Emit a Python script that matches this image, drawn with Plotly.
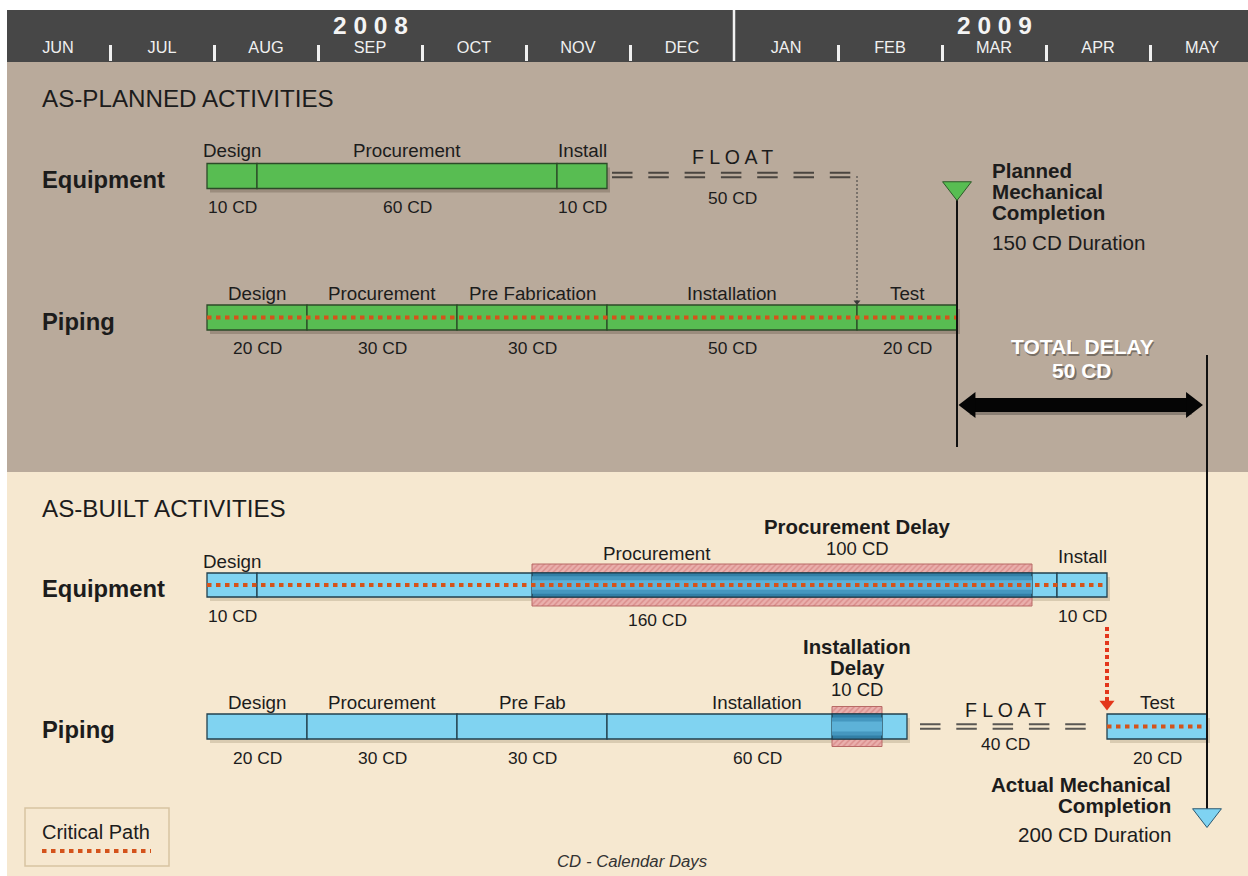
import numpy as np
import plotly.graph_objects as go

# ---------------- data ----------------
months = ["JUN", "JUL", "AUG", "SEP", "OCT", "NOV", "DEC", "JAN", "FEB", "MAR", "APR", "MAY"]
years = ["2 0 0 8", "2 0 0 9"]
year_label_month = [3, 9]          # year label sits over SEP / MAR
year_break_month = 6.5             # divider between DEC and JAN

planned_eq_tasks = ["Design", "Procurement", "Install"]
planned_eq_cd = [10, 60, 10]
planned_eq_float_cd = 50

planned_pp_tasks = ["Design", "Procurement", "Pre Fabrication", "Installation", "Test"]
planned_pp_cd = [20, 30, 30, 50, 20]
planned_completion_cd = 150

built_eq_tasks = ["Design", "Procurement", "Install"]
built_eq_cd = [10, 160, 10]
procurement_delay_start = 65
procurement_delay_cd = 100

built_pp_tasks = ["Design", "Procurement", "Pre Fab", "Installation"]
built_pp_cd = [20, 30, 30, 60]
built_pp_float_cd = 40
built_pp_test_cd = 20
installation_delay_start = 125
installation_delay_cd = 10
actual_completion_cd = 200
total_delay_cd = 50

# ---------------- layout constants ----------------
W, H, TOP = 1248, 876, 62
PX0, PPD = 207.0, 5.0            # pixel of day 0, pixels per day
MON0, MONW = 58.0, 104.0         # pixel of first month centre, month width


def day(px):
    return (px - PX0) / PPD


def py(p):
    return (H - p) / (H - TOP)


FONT = "Liberation Sans, Arial, sans-serif"
GREEN, GREEN_LN = "#58bd52", "#2c4a28"
BLUE, BLUE_LN = "#80d3f1", "#22404e"
CP = "#d4531b"
TXT = "#1c1c1c"
SHADOW = "rgba(50,35,20,0.22)"

Y_PEQ, Y_PPP, Y_BEQ, Y_BPP = 176, 317.5, 585, 726.5
BAR_H = 25
LBL, CDL = 18.8, 17.4            # task label / duration label font sizes

fig = go.Figure()


def bars(starts, durs, yc, h, color, line_color="rgba(0,0,0,0)", line_w=1.3, pattern=None):
    marker = dict(color=color, line=dict(color=line_color, width=line_w))
    if pattern:
        marker["pattern"] = pattern
    fig.add_trace(go.Bar(orientation="h", y=[yc] * len(durs), x=list(durs), base=list(starts),
                         width=[h] * len(durs), marker=marker, hoverinfo="skip", showlegend=False))


def line(xs, ys, color, width, dash="solid", xaxis="x"):
    fig.add_trace(go.Scatter(x=xs, y=ys, mode="lines", xaxis=xaxis,
                             line=dict(color=color, width=width, dash=dash),
                             hoverinfo="skip", showlegend=False))


def marker(x, y, symbol, size, color, lcolor, lw=1):
    fig.add_trace(go.Scatter(x=[x], y=[y], mode="markers",
                             marker=dict(symbol=symbol, size=size, color=color,
                                         line=dict(color=lcolor, width=lw)),
                             hoverinfo="skip", showlegend=False))


anns = []


def ann(text, x, y, size=LBL, bold=False, color=TXT, xanchor="center", xref="x", yref="y",
        xshift=0, yshift=0, italic=False):
    if bold:
        text = "<b>" + text + "</b>"
    if italic:
        text = "<i>" + text + "</i>"
    anns.append(dict(text=text, x=x, y=y, xref=xref, yref=yref, showarrow=False,
                     xanchor=xanchor, yanchor="middle", xshift=xshift, yshift=yshift,
                     font=dict(family=FONT, size=size, color=color)))


def starts_of(durs, offset=0):
    return list(offset + np.concatenate([[0], np.cumsum(durs)[:-1]]))


# ---- cumulative schedule ----
p_eq_s = starts_of(planned_eq_cd)
p_eq_end = sum(planned_eq_cd)
p_pp_s = starts_of(planned_pp_cd)
p_pp_end = sum(planned_pp_cd)

b_eq_s = starts_of(built_eq_cd)
b_eq_end = sum(built_eq_cd)
b_pp_s = starts_of(built_pp_cd)
b_pp_work_end = sum(built_pp_cd)
b_pp_test_start = b_pp_work_end + built_pp_float_cd
b_pp_end = b_pp_test_start + built_pp_test_cd

# ---- shadows ----
bars([0.6], [p_eq_end], Y_PEQ + 4, BAR_H, SHADOW)
bars([0.6], [p_pp_end], Y_PPP + 4, BAR_H, SHADOW)
bars([0.6], [b_eq_end], Y_BEQ + 4, 24, "rgba(90,70,40,0.18)")
bars([0.6], [b_pp_work_end], Y_BPP + 4, BAR_H, "rgba(90,70,40,0.18)")
bars([b_pp_test_start + 0.6], [built_pp_test_cd], Y_BPP + 4, BAR_H, "rgba(90,70,40,0.18)")

# ---- hatched delay boxes ----
hatch = dict(shape="/", fgcolor="#c86767", bgcolor="#eab0ad", size=4, solidity=0.35)
bars([procurement_delay_start], [procurement_delay_cd], Y_BEQ, 42, "#eab0ad", "#b86a66", 1, hatch)
bars([installation_delay_start], [installation_delay_cd], Y_BPP, 40, "#eab0ad", "#b86a66", 1, hatch)

# ---- planned bars ----
bars(p_eq_s, planned_eq_cd, Y_PEQ, BAR_H, GREEN, GREEN_LN)
bars(p_pp_s, planned_pp_cd, Y_PPP, BAR_H, GREEN, GREEN_LN)

# ---- as-built bars ----
bars(b_eq_s, built_eq_cd, Y_BEQ, 24, BLUE, BLUE_LN)
bars(b_pp_s, built_pp_cd, Y_BPP, BAR_H, BLUE, BLUE_LN)
bars([b_pp_test_start], [built_pp_test_cd], Y_BPP, BAR_H, BLUE, BLUE_LN)

# darker (delayed) portions, faux gradient
for (s, d, yc, h) in [(procurement_delay_start, procurement_delay_cd, Y_BEQ, 24),
                      (installation_delay_start, installation_delay_cd, Y_BPP, BAR_H)]:
    bars([s], [d], yc, h, "#327fa6", "#1d3a48", 1.2)
    bars([s], [d], yc, h * 0.72, "#4597bf")
    bars([s], [d], yc, h * 0.4, "#5db2d8")

# ---- critical path dotted lines ----
CPDASH = "4.5px,4.5px"
line([0, p_pp_end], [Y_PPP, Y_PPP], CP, 4, CPDASH)
line([0, b_eq_end], [Y_BEQ, Y_BEQ], CP, 4, CPDASH)
line([b_pp_test_start, b_pp_end], [Y_BPP, Y_BPP], CP, 4, CPDASH)

# red link from equipment install to piping test
line([b_eq_end, b_eq_end], [627, 701], "#e3361b", 4, "4px,3px")
marker(b_eq_end, 704, "triangle-down", 13, "#e3361b", "#e3361b", 0)

# ---- float double-dash lines ----
FDASH = "20.5px,15.8px"
pf0, pf1 = p_eq_end + 1, p_eq_end + planned_eq_float_cd - 1
for off in (-2.2, 2.2):
    line([pf0, pf1], [Y_PEQ - 1 + off, Y_PEQ - 1 + off], "#4a4540", 2, FDASH)
bf0, bf1 = b_pp_work_end + 2.6, b_pp_test_start - 3.6
for off in (-2.2, 2.2):
    line([bf0, bf1], [Y_BPP + off, Y_BPP + off], "#5a5753", 2, FDASH)

# thin dotted drop from end of float to piping
fx = p_eq_end + planned_eq_float_cd
line([fx, fx], [Y_PEQ, Y_PPP - 16], "#3a3a3a", 1, "2px,2px")
marker(fx, Y_PPP - 15.5, "triangle-down", 6, "#3a3a3a", "#3a3a3a", 0)

# ---- milestones ----
line([planned_completion_cd, planned_completion_cd], [190, 447], "#111", 2)
marker(planned_completion_cd, 188, "triangle-down", 25, GREEN, "#2c5a28", 1)
line([actual_completion_cd, actual_completion_cd], [355, 809], "#111", 2)
marker(actual_completion_cd, 815, "triangle-down", 25, "#7fd3f2", "#2b5870", 1)

# ---- total delay double arrow ----
r_days = 11.3 / PPD
ya = 405
line([planned_completion_cd + 0.3 + r_days, actual_completion_cd - 0.8 - r_days], [ya + 3, ya + 3],
     "rgba(0,0,0,0.25)", 14)
line([planned_completion_cd + 0.3 + r_days, actual_completion_cd - 0.8 - r_days], [ya, ya], "#050505", 14)
marker(planned_completion_cd + 0.3 + r_days, ya, "triangle-left", 22.5, "#050505", "#050505", 0)
marker(actual_completion_cd - 0.8 - r_days, ya, "triangle-right", 22.5, "#050505", "#050505", 0)

# ---- month axis helper trace ----
fig.add_trace(go.Scatter(x=list(range(len(months))), y=[H] * len(months), xaxis="x2", yaxis="y",
                         mode="markers", marker=dict(size=1, opacity=0), hoverinfo="skip",
                         showlegend=False))

# ---------------- annotations ----------------
ann("AS-PLANNED ACTIVITIES", 40 / W, 98, 24.2, xanchor="left", xref="paper")
ann("AS-BUILT ACTIVITIES", 40 / W, 508, 24.2, xanchor="left", xref="paper")
ann("Equipment", 40 / W, 179, 23.8, True, xanchor="left", xref="paper")
ann("Piping", 40 / W, 321, 23.8, True, xanchor="left", xref="paper")
ann("Equipment", 40 / W, 588, 23.8, True, xanchor="left", xref="paper")
ann("Piping", 40 / W, 729, 23.8, True, xanchor="left", xref="paper")

for t, s, d in zip(planned_eq_tasks, p_eq_s, planned_eq_cd):
    ann(t, s + d / 2, Y_PEQ - 26, LBL)
    ann(f"{d} CD", s + d / 2, Y_PEQ + 31, CDL)
for t, s, d in zip(planned_pp_tasks, p_pp_s, planned_pp_cd):
    ann(t, s + d / 2, Y_PPP - 24.5, LBL)
    ann(f"{d} CD", s + d / 2, Y_PPP + 30.5, CDL)
ann("F L O A T", p_eq_end + planned_eq_float_cd / 2, 157, 19.5)
ann(f"{planned_eq_float_cd} CD", p_eq_end + planned_eq_float_cd / 2, 198, CDL)

eq_above = [-24, -32, -29]
eq_below = [31, 35, 31]
for t, s, d, a, b in zip(built_eq_tasks, b_eq_s, built_eq_cd, eq_above, eq_below):
    ann(t, s + d / 2, Y_BEQ + a, LBL)
    ann(f"{d} CD", s + d / 2, Y_BEQ + b, CDL)
for t, s, d in zip(built_pp_tasks, b_pp_s, built_pp_cd):
    ann(t, s + d / 2, Y_BPP - 24.5, LBL)
    ann(f"{d} CD", s + d / 2, Y_BPP + 31.5, CDL)
ann("Test", b_pp_test_start + built_pp_test_cd / 2, Y_BPP - 24, LBL)
ann(f"{built_pp_test_cd} CD", b_pp_test_start + built_pp_test_cd / 2, Y_BPP + 31.5, CDL)
ann("F L O A T", b_pp_work_end + built_pp_float_cd / 2, 710, 19.5, xshift=-2)
ann(f"{built_pp_float_cd} CD", b_pp_work_end + built_pp_float_cd / 2, 744, CDL, xshift=-2)

ann("Procurement Delay", day(857), 527, 20.4, True)
ann(f"{procurement_delay_cd} CD", day(857), 548, 18.5)
idc = installation_delay_start + installation_delay_cd / 2
ann("Installation", idc, 647, 20.4, True)
ann("Delay", idc, 668, 20.4, True)
ann(f"{installation_delay_cd} CD", idc, 689, 18.5)

MS = 20.6
ann("Planned", planned_completion_cd, 170, MS, True, xanchor="left", xshift=33)
ann("Mechanical", planned_completion_cd, 191, MS, True, xanchor="left", xshift=33)
ann("Completion", planned_completion_cd, 212, MS, True, xanchor="left", xshift=33)
ann(f"{planned_completion_cd} CD Duration", planned_completion_cd, 242, MS, xanchor="left", xshift=33)

ann("Actual Mechanical", actual_completion_cd, 784, MS, True, xanchor="right", xshift=-34)
ann("Completion", actual_completion_cd, 805, MS, True, xanchor="right", xshift=-34)
ann(f"{actual_completion_cd} CD Duration", actual_completion_cd, 834, MS, xanchor="right", xshift=-34)

tdx = (planned_completion_cd + actual_completion_cd) / 2
for (txt, yy) in [("TOTAL DELAY", 346), (f"{total_delay_cd} CD", 370)]:
    ann(txt, tdx, yy, 21, True, color="rgba(0,0,0,0.35)", xshift=1.5, yshift=-2)
    ann(txt, tdx, yy, 21, True, color="#ffffff")

ann("Critical Path", 96 / W, 832, 20, xanchor="center", xref="paper")
ann("CD - Calendar Days", day(632), 861, 16.8, italic=True, color="#333")

for yl, mi in zip(years, year_label_month):
    ann(yl, mi, py(26), 24.5, True, color="#f4f4f4", xref="x2", yref="paper")

# ---------------- shapes ----------------
shapes = [
    dict(type="rect", xref="paper", yref="paper", x0=7 / W, x1=1, y0=py(62), y1=py(10),
         fillcolor="#474747", line=dict(width=0), layer="below"),
    dict(type="rect", xref="paper", yref="y", x0=7 / W, x1=1, y0=62, y1=472,
         fillcolor="#b9aa9b", line=dict(width=0), layer="below"),
    dict(type="rect", xref="paper", yref="y", x0=7 / W, x1=1, y0=472, y1=876,
         fillcolor="#f6e8d0", line=dict(width=0), layer="below"),
    dict(type="line", xref="x2", yref="paper", x0=year_break_month, x1=year_break_month,
         y0=py(61), y1=py(10), line=dict(color="#f2f2f2", width=2.5)),
    dict(type="rect", xref="paper", yref="y", x0=25 / W, x1=169 / W, y0=808, y1=866,
         line=dict(color="#d8c3a1", width=1.5), fillcolor="rgba(0,0,0,0)"),
    dict(type="line", xref="paper", yref="y", x0=42 / W, x1=151 / W, y0=851, y1=851,
         line=dict(color=CP, width=4, dash="4.5px,4.5px")),
]

minor_vals = [i + 0.5 for i in range(len(months) - 1) if i + 0.5 != year_break_month]

fig.update_layout(
    width=W, height=H, autosize=False,
    margin=dict(l=0, r=0, t=TOP, b=0, pad=0),
    paper_bgcolor="white", plot_bgcolor="rgba(0,0,0,0)",
    barmode="overlay", hovermode=False, showlegend=False,
    xaxis=dict(range=[day(0), day(W)], visible=False, fixedrange=True),
    yaxis=dict(range=[H, TOP], visible=False, fixedrange=True),
    xaxis2=dict(overlaying="x", side="top", anchor="y",
                range=[(0 - MON0) / MONW, (W - MON0) / MONW],
                tickmode="array", tickvals=list(range(len(months))), ticktext=months,
                tickfont=dict(family=FONT, size=16.3, color="#f0f0f0"),
                ticks="", showgrid=False, zeroline=False, showline=False, fixedrange=True,
                ticklabelstandoff=5,
                minor=dict(tickmode="array", tickvals=minor_vals, ticks="outside",
                           ticklen=16, tickwidth=3, tickcolor="#f0f0f0", showgrid=False)),
    annotations=anns, shapes=shapes,
)

fig.write_html("out.html", post_script="document.body.style.margin='0';",
               config={"displayModeBar": False, "staticPlot": True})
